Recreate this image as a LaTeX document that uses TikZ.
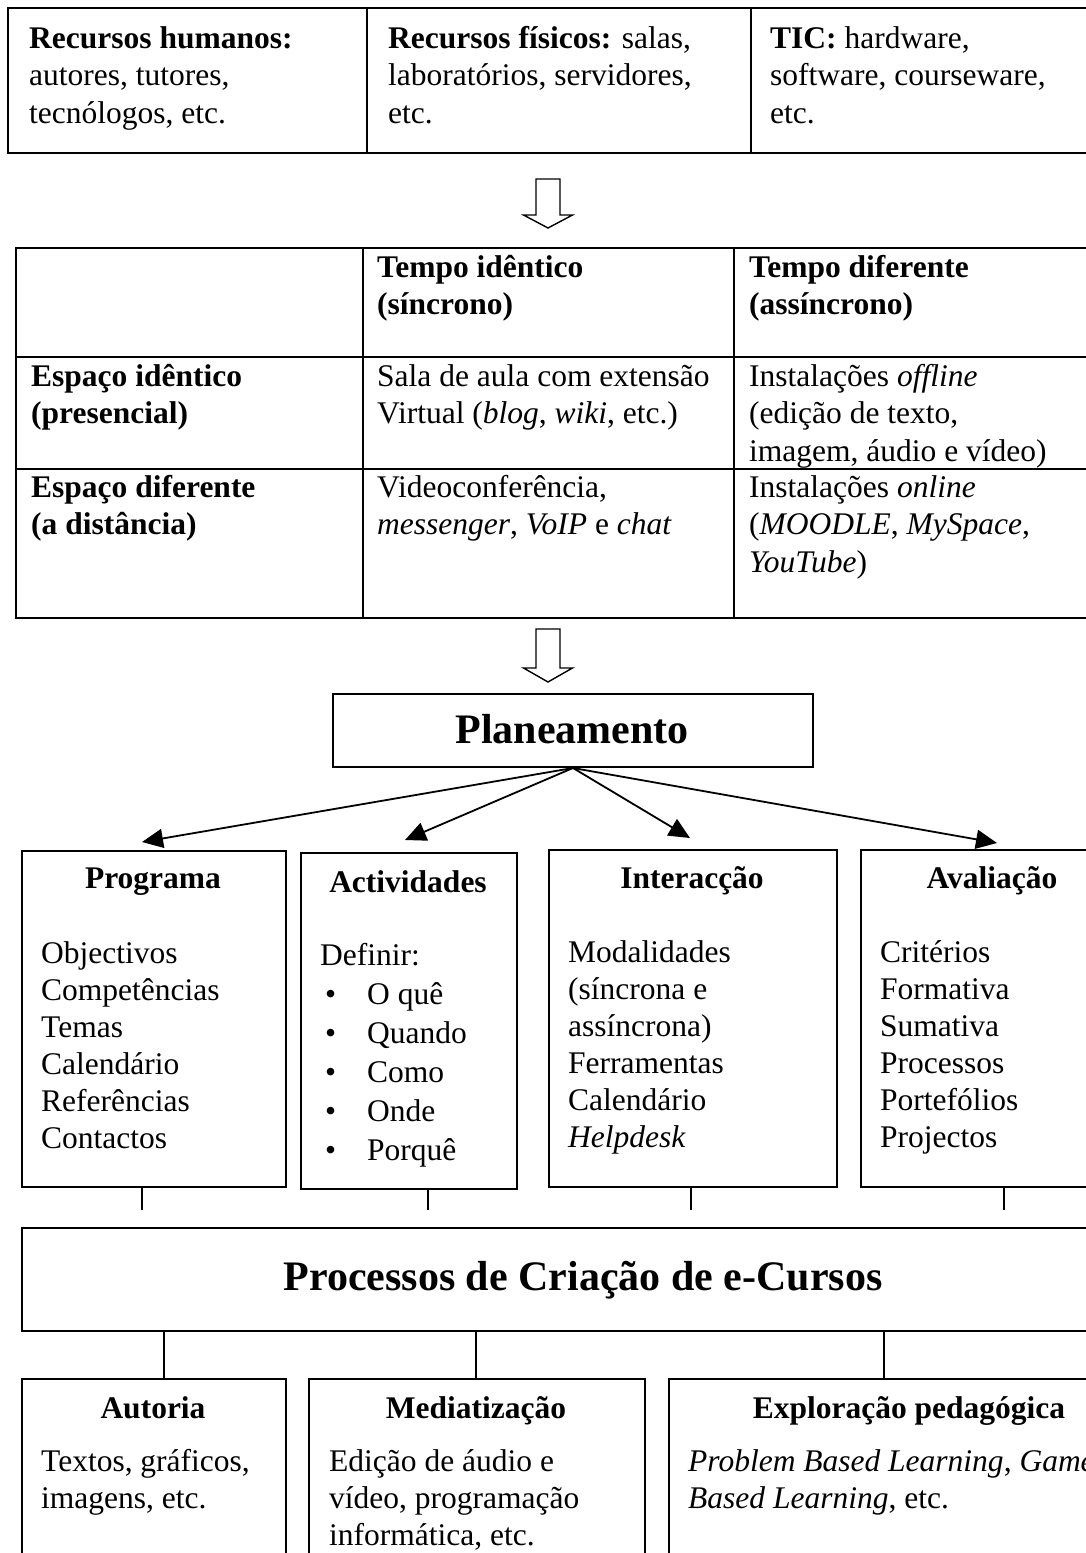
\documentclass[tikz,border=0pt]{standalone}
\usepackage{fontspec}
\setmainfont{Liberation Serif}
\usetikzlibrary{arrows.meta}
\begin{document}
\begin{tikzpicture}[x=1pt,y=-1pt,
  body/.style={font=\fontsize{31.5}{37.5}\selectfont, inner sep=0pt, align=left, anchor=base west},
  lst/.style={font=\fontsize{31.5}{37}\selectfont, inner sep=0pt, align=left, anchor=base west},
  ttl/.style={font=\fontsize{31.5}{37}\selectfont\bfseries, inner sep=0pt, anchor=base},
  big/.style={font=\fontsize{42}{48}\selectfont\bfseries, inner sep=0pt, anchor=base},
  frame/.style={draw, line width=2pt, inner sep=0pt, anchor=north west},
  ln/.style={line width=2pt},
  conn/.style={line width=1.8pt, -{Triangle[length=21pt,width=19pt]}},
  blockarrow/.style={draw, line width=1.4pt, fill=white, line join=miter}]
\useasboundingbox (0,0) rectangle (1086,1553);
\clip (0,0) rectangle (1086,1553);

% note: multi-line text nodes are anchored at the baseline of their LAST line

% ---------- top table ----------
\node[frame, minimum width=1110pt, minimum height=145pt] (tabA) at (7,7) {};
\draw[ln] (367,7) -- (367,152);
\draw[ln] (751,7) -- (751,152);
\node[body] (ta1) at (29,123) {\textbf{Recursos humanos:}\\autores, tutores,\\tecnólogos, etc.};
\node[body] (ta2) at (388,123) {\textbf{Recursos físicos:} salas,\\laboratórios, servidores,\\etc.};
\node[body] (ta3) at (770,123) {\textbf{TIC:} hardware,\\software, courseware,\\etc.};

% ---------- block arrow 1 ----------
\draw[blockarrow] (536,179) -- (560,179) -- (560,215) -- (572.5,215) -- (548,228)
  -- (523.5,215) -- (536,215) -- cycle;

% ---------- middle table ----------
\node[frame, minimum width=1110pt, minimum height=370pt] (tabB) at (15,247) {};
\draw[ln] (363,247) -- (363,617);
\draw[ln] (734,247) -- (734,617);
\draw[ln] (15,357) -- (1100,357);
\draw[ln] (15,469) -- (1100,469);
\node[body] (tb01) at (377,314.5) {\textbf{Tempo idêntico}\\\textbf{(síncrono)}};
\node[body] (tb02) at (749,314.5) {\textbf{Tempo diferente}\\\textbf{(assíncrono)}};
\node[body] (tb10) at (31,423.5) {\textbf{Espaço idêntico}\\\textbf{(presencial)}};
\node[body] (tb11) at (377,423.5) {Sala de aula com extensão\\Virtual (\textit{blog}, \textit{wiki}, etc.)};
\node[body] (tb12) at (749,461) {Instalações \textit{offline}\\(edição de texto,\\imagem, áudio e vídeo)};
\node[body] (tb20) at (31,534.5) {\textbf{Espaço diferente}\\\textbf{(a distância)}};
\node[body] (tb21) at (377,534.5) {Videoconferência,\\\textit{messenger}, \textit{VoIP} e \textit{chat}};
\node[body] (tb22) at (749,572) {Instalações \textit{online}\\(\textit{MOODLE}, \textit{MySpace},\\\textit{YouTube})};

% ---------- block arrow 2 ----------
\draw[blockarrow] (536,629) -- (560,629) -- (560,668) -- (572.5,668) -- (548,682)
  -- (523.5,668) -- (536,668) -- cycle;

% ---------- Planeamento ----------
\node[frame, minimum width=480pt, minimum height=73pt] (plan) at (332,693) {};
\node[big] (plant) at (572,743) {Planeamento};

\coordinate (a1) at (142,842);
\coordinate (a2) at (405,840);
\coordinate (a3) at (690,838);
\coordinate (a4) at (997,843);
\foreach \t in {a1,a2,a3,a4} \draw[conn] (plan.south) -- (\t);

% ---------- four boxes ----------
\node[frame, minimum width=264pt, minimum height=336pt] (prog) at (21,850) {};
\node[frame, minimum width=216pt, minimum height=336pt] (activ) at (300,852) {};
\node[frame, minimum width=288pt, minimum height=337pt] (inter) at (548,849) {};
\node[frame, minimum width=264pt, minimum height=337pt] (aval) at (860,849) {};

\node[ttl] (progt) at (153,888) {Programa};
\node[ttl] (activt) at (408,892) {Actividades};
\node[ttl] (intert) at (692,888) {Interacção};
\node[ttl] (avalt) at (992,888) {Avaliação};

\node[lst] (progl) at (41,1148) {Objectivos\\Competências\\Temas\\Calendário\\Referências\\Contactos};
\node[lst, font=\fontsize{31.5}{39}\selectfont] (activl) at (320,1160) {Definir:\\
  \hspace*{5pt}\makebox[42pt][l]{•}O quê\\
  \hspace*{5pt}\makebox[42pt][l]{•}Quando\\
  \hspace*{5pt}\makebox[42pt][l]{•}Como\\
  \hspace*{5pt}\makebox[42pt][l]{•}Onde\\
  \hspace*{5pt}\makebox[42pt][l]{•}Porquê};
\node[lst] (interl) at (568,1147) {Modalidades\\(síncrona e\\assíncrona)\\Ferramentas\\Calendário\\\textit{Helpdesk}};
\node[lst] (avall) at (880,1147) {Critérios\\Formativa\\Sumativa\\Processos\\Portefólios\\Projectos};

% stubs below boxes
\coordinate (s1) at (142,1210);
\coordinate (s2) at (428,1210);
\coordinate (s3) at (691,1210);
\coordinate (s4) at (1004,1210);
\draw[ln] (prog.south -| s1) -- (s1);
\draw[ln] (activ.south -| s2) -- (s2);
\draw[ln] (inter.south -| s3) -- (s3);
\draw[ln] (aval.south -| s4) -- (s4);

% ---------- Processos ----------
\node[frame, minimum width=1124pt, minimum height=103pt] (proc) at (21,1227) {};
\node[big] (proct) at (583,1290) {Processos de Criação de e-Cursos};

% ---------- bottom boxes ----------
\node[frame, minimum width=264pt, minimum height=260pt] (aut) at (21,1378) {};
\node[frame, minimum width=336pt, minimum height=260pt] (med) at (308,1378) {};
\node[frame, minimum width=482pt, minimum height=260pt] (exp) at (668,1378) {};

\coordinate (l1) at (164,1330);
\coordinate (l2) at (476,1330);
\coordinate (l3) at (884,1330);
\draw[ln] (proc.south -| l1) -- (aut.north -| l1);
\draw[ln] (proc.south -| l2) -- (med.north -| l2);
\draw[ln] (proc.south -| l3) -- (exp.north -| l3);

\node[ttl] (autt) at (153,1418) {Autoria};
\node[ttl] (medt) at (476,1418) {Mediatização};
\node[ttl] (expt) at (909,1418) {Exploração pedagógica};

\node[lst] (autl) at (41,1508) {Textos, gráficos,\\imagens, etc.};
\node[lst] (medl) at (329,1545) {Edição de áudio e\\vídeo, programação\\informática, etc.};
\node[lst] (expl) at (688,1508) {\textit{Problem Based Learning}, \textit{Game}\\\textit{Based Learning}, etc.};
\end{tikzpicture}
\end{document}
